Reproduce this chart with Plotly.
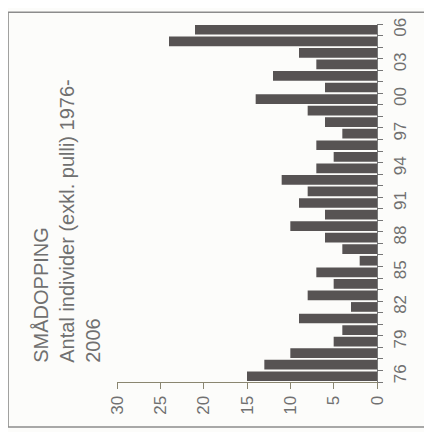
import plotly.graph_objects as go

years = list(range(1976, 2007))
values = [15, 13, 10, 5, 4, 9, 3, 8, 5, 7, 2, 4, 6, 10, 6, 9, 8, 11, 7, 5, 7, 4, 6, 8, 14, 6, 12, 7, 9, 24, 21]
year_ticks = [1976, 1979, 1982, 1985, 1988, 1991, 1994, 1997, 2000, 2003, 2006]
year_labels = ["76", "79", "82", "85", "88", "91", "94", "97", "00", "03", "06"]
value_ticks = [0, 5, 10, 15, 20, 25, 30]
title_lines = ["SMÅDOPPING", "Antal individer (exkl. pulli) 1976-", "2006"]

font_family = "Liberation Sans, Arial, sans-serif"
text_col = "#707070"

fig = go.Figure()
fig.add_trace(go.Bar(
    x=values, y=years, orientation="h",
    marker=dict(color="#575353", line=dict(width=0)),
))

fig.update_layout(
    width=432, height=432,
    margin=dict(l=109, r=63, t=10, b=58),
    paper_bgcolor="#fcfcfa", plot_bgcolor="#fcfcfa",
    bargap=0.16, showlegend=False,
    font=dict(family=font_family, color=text_col, size=17),
)
fig.update_xaxes(
    range=[30, 0], tickvals=value_ticks, tickangle=-90,
    showgrid=False, zeroline=False,
    showline=True, linecolor="#8a8670", linewidth=1,
    ticks="outside", ticklen=6, tickcolor="#8a8670",
    tickfont=dict(size=17, color=text_col),
)
fig.update_yaxes(
    range=[1975.5, 2006.5], side="right",
    tickvals=year_ticks, ticktext=year_labels, tickangle=-90,
    showgrid=False, zeroline=False,
    showline=True, linecolor="#777777", linewidth=1,
    ticks="", ticklabelstandoff=8,
    minor=dict(tick0=1975.5, dtick=1, ticks="outside", ticklen=5, tickcolor="#777777", showgrid=False),
    tickfont=dict(size=17, color=text_col),
)

fig.add_shape(type="rect", xref="paper", yref="paper",
              x0=-0.419, x1=1.25, y0=-0.126, y1=1.033,
              line=dict(color="#8c8c8c", width=1.5), layer="below")

fig.add_annotation(
    text="<br>".join(title_lines), xref="paper", yref="paper",
    x=-0.342, y=0.047, xanchor="left", yanchor="bottom",
    textangle=-90, align="left", showarrow=False,
    font=dict(size=20, color=text_col, family=font_family),
)

fig.write_html("out.html")
